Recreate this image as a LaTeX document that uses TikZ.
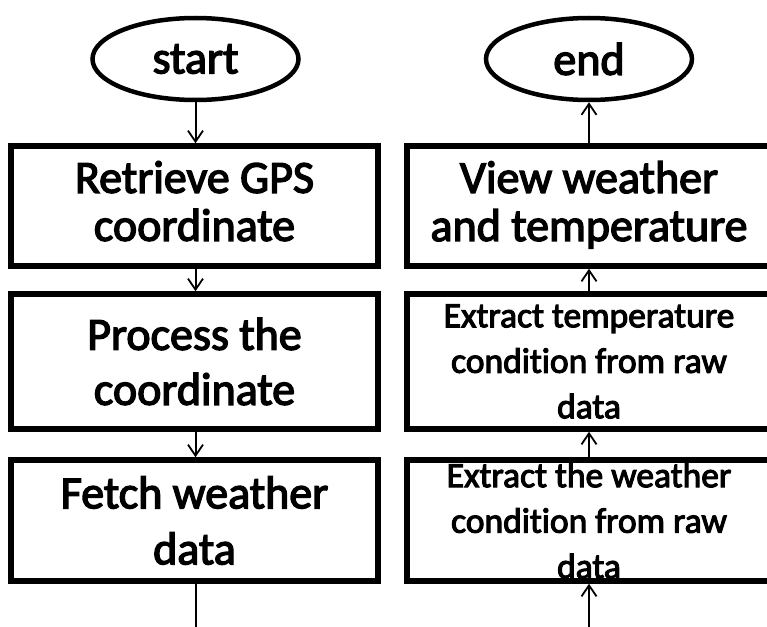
\documentclass[tikz,border=0pt]{standalone}
\usepackage{fontspec}
\setmainfont{Carlito}[FakeBold=3,Ligatures=NoCommon]
\usetikzlibrary{arrows.meta,shapes.geometric}
\begin{document}
\begin{tikzpicture}[x=1pt,y=-1pt,
  bigtext/.style={font=\fontsize{46}{#1}\selectfont},
  smalltext/.style={font=\fontsize{35.5}{45.5}\selectfont},
  box/.style={draw,line width=5.5pt,rectangle,inner sep=0pt,align=center},
  term/.style={draw,line width=4.5pt,ellipse,minimum width=206pt,minimum height=82pt,inner sep=0pt,font=\fontsize{46}{48}\selectfont},
  flow/.style={line width=2pt,-{Straight Barb[length=11pt,width=15pt,line width=1.8pt]}},
  plain/.style={line width=2pt}]
\useasboundingbox (0,0) rectangle (767,626);
\clip (0,0) rectangle (767,626);
% left column
\node[term] (start) at (195.5,59) {start};
\node[box,bigtext=48,text depth=10pt,minimum width=367pt,minimum height=120pt] (b1) at (194.5,206) {Retrieve GPS\\coordinate};
\node[box,bigtext=55,minimum width=367pt,minimum height=135pt] (b2) at (194.5,361.5) {Process the\\coordinate};
\node[box,bigtext=56,minimum width=367pt,minimum height=121pt] (b3) at (194.5,520.5) {Fetch weather\\data};
% right column
\node[term] (end) at (589,59) {end};
\node[box,bigtext=48,text depth=10pt,minimum width=364pt,minimum height=120pt] (r1) at (589,206) {View weather\\and temperature};
\node[box,smalltext,minimum width=364pt,minimum height=135pt] (r2) at (589,361.5) {Extract temperature\\condition from raw\\data};
\node[box,smalltext,minimum width=364pt,minimum height=121pt] (r3) at (589,520.5) {Extract the weather\\condition from raw\\data};
\coordinate (lout) at (195.5,630);
\coordinate (rin) at (589,630);
% connectors
\draw[flow] (start.south) -- (b1.north -| start.south);
\draw[flow] (b1.south -| start.south) -- (b2.north -| start.south);
\draw[flow] (b2.south -| start.south) -- (b3.north -| start.south);
\draw[plain] (b3.south -| start.south) -- (lout);
\draw[flow] (rin) -- (r3.south);
\draw[flow] (r3.north) -- (r2.south);
\draw[flow] (r2.north) -- (r1.south);
\draw[flow] (r1.north) -- (end.south);
\end{tikzpicture}
\end{document}
